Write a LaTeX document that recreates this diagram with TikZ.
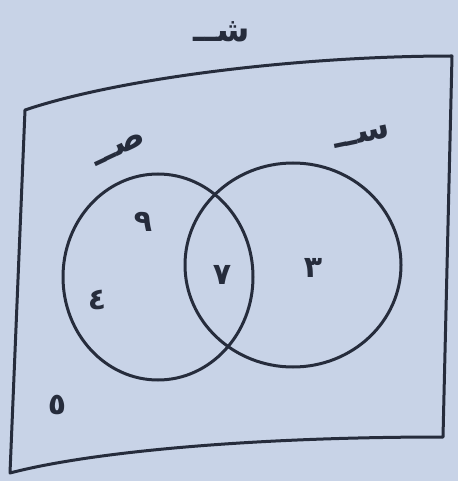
\documentclass[tikz,border=0pt]{standalone}
\usepackage{fontspec}
\newfontfamily\arabicfont[Script=Arabic]{DejaVu Sans}
\TeXXeTstate=1
\usepackage{xcolor}
\usetikzlibrary{shapes.geometric, positioning}

\definecolor{paper}{RGB}{200,211,231}
\definecolor{ink}{RGB}{38,44,60}

\begin{document}
\begin{tikzpicture}[x=1pt, y=-1pt, line width=3pt,
    setring/.style={draw=ink, ellipse, inner sep=0pt},
    elem/.style={text=ink, font=\arabicfont\bfseries\fontsize{30}{30}\selectfont},
    setname/.style={text=ink, font=\arabicfont\bfseries\fontsize{34}{34}\selectfont}]
    \fill[paper] (0,0) rectangle (458,481);
    \useasboundingbox (0,0) rectangle (458,481);

    \coordinate (tl) at (25,110);
    \coordinate (tr) at (452,56);
    \coordinate (br) at (443,437);
    \coordinate (bl) at (10,473);
    \draw[ink, line join=round] (tl) .. controls (120,78) and (300,56) .. (tr) -- (br)
        .. controls (250,437) and (90,452) .. (bl) -- cycle;

    \node[setring, minimum width=190pt, minimum height=206pt] (sad) at (158,277) {};
    \node[setring, minimum width=216pt, minimum height=204pt] (sin) at (293,265) {};

    \node[setname]            (U)  at (222,32)  {\beginR شــ\endR};
    \node[setname, rotate=25] (A)  at (119,149) {\beginR صــ\endR};
    \node[setname, rotate=12] (B)  at (362,137) {\beginR ســ\endR};

    \node[elem] (e9) at (143,222) {٩};
    \node[elem] (e4) at (97,300)  {٤};
    \node[elem] (e7) at (222,275) {٧};
    \node[elem] (e3) at (313,268) {٣};
    \node[elem] (e5) at (57,405)  {٥};
\end{tikzpicture}
\end{document}
